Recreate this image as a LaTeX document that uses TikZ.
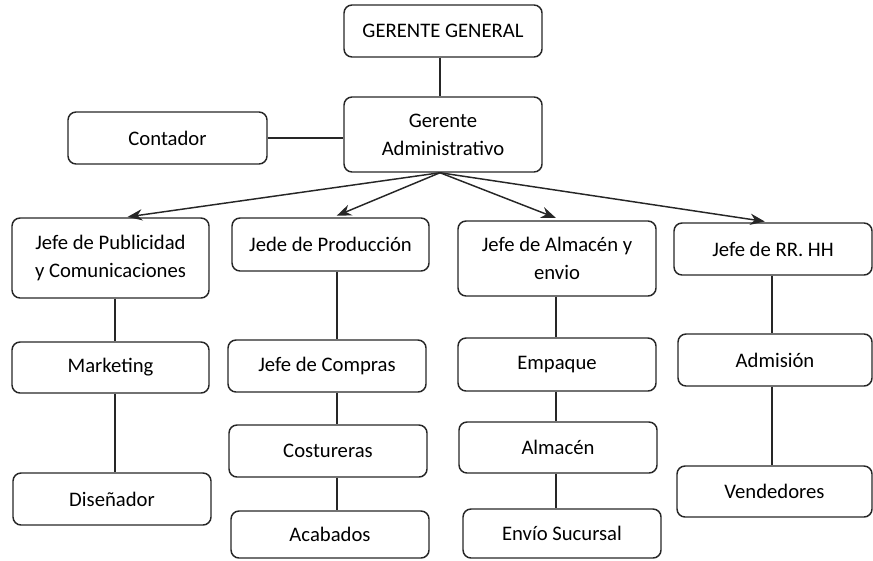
\documentclass[tikz,border=0pt]{standalone}
\usepackage{fontspec}
\setmainfont{Carlito}
\usetikzlibrary{arrows.meta}
\tikzset{
  box/.style={draw=black!85, line width=1.1pt, rounded corners=6pt, align=center, inner sep=0pt,
    font=\fontsize{15.5}{21}\selectfont},
  link/.style={draw=black!85, line width=1.1pt},
  arr/.style={draw=black!85, line width=1.1pt, -{Stealth[length=11pt,width=8.5pt]}}
}
\newcommand{\bx}[6]{\node[box, minimum width={(#4-#2)*0.75pt}, minimum height={(#5-#3)*0.75pt}] (#1) at ({(#2+#4)/2},{(#3+#5)/2}) {#6};}
\begin{document}
\begin{tikzpicture}[x=0.75pt,y=-0.75pt]
\useasboundingbox (0,0) rectangle (873,560);
\bx{gg}{344}{5}{542}{57}{GERENTE GENERAL}
\bx{ga}{344}{97}{542}{172}{Gerente\\Administrativo}
\bx{cont}{68}{112}{267}{164}{Contador}
\bx{pub}{12}{218}{209}{298}{Jefe de Publicidad\\y Comunicaciones}
\bx{prod}{232}{218}{429}{271}{Jede de Producción}
\bx{alm}{458}{221}{656}{296}{Jefe de Almacén y\\envio}
\bx{rrhh}{674}{223}{872}{275}{Jefe de RR. HH}
\bx{mkt}{12}{342}{209}{393}{Marketing}
\bx{dis}{13}{473}{211}{525}{Diseñador}
\bx{comp}{228}{340}{426}{392}{Jefe de Compras}
\bx{cost}{229}{425}{427}{477}{Costureras}
\bx{acab}{231}{511}{429}{558}{Acabados}
\bx{emp}{458}{338}{656}{391}{Empaque}
\bx{almc}{459}{422}{657}{473}{Almacén}
\bx{env}{463}{509}{661}{558}{Envío Sucursal}
\bx{adm}{678}{334}{872}{386}{Admisión}
\bx{vend}{677}{466}{872}{517}{Vendedores}
% links
\draw[link] (gg.south -| 440,0) -- (ga.north -| 440,0);
\draw[link] (cont.east) -- (cont.east -| ga.west);
\draw[link] (pub.south -| 115,0) -- (mkt.north -| 115,0);
\draw[link] (mkt.south -| 115,0) -- (dis.north -| 115,0);
\draw[link] (prod.south -| 337,0) -- (comp.north -| 337,0);
\draw[link] (comp.south -| 337,0) -- (cost.north -| 337,0);
\draw[link] (cost.south -| 337,0) -- (acab.north -| 337,0);
\draw[link] (alm.south -| 556,0) -- (emp.north -| 556,0);
\draw[link] (emp.south -| 556,0) -- (almc.north -| 556,0);
\draw[link] (almc.south -| 556,0) -- (env.north -| 556,0);
\draw[link] (rrhh.south -| 772,0) -- (adm.north -| 772,0);
\draw[link] (adm.south -| 772,0) -- (vend.north -| 772,0);
% arrows
\coordinate (src) at (ga.south -| 440,0);
\draw[arr, shorten >=2pt] (src) -- (pub.north -| 125,0);
\draw[arr, shorten >=3pt] (src) -- (prod.north -| 333,0);
\draw[arr, shorten >=5pt] (src) -- (alm.north -| 562,0);
\draw[arr, shorten >=4pt] (src) -- (rrhh.north -| 770,0);
\end{tikzpicture}
\end{document}
